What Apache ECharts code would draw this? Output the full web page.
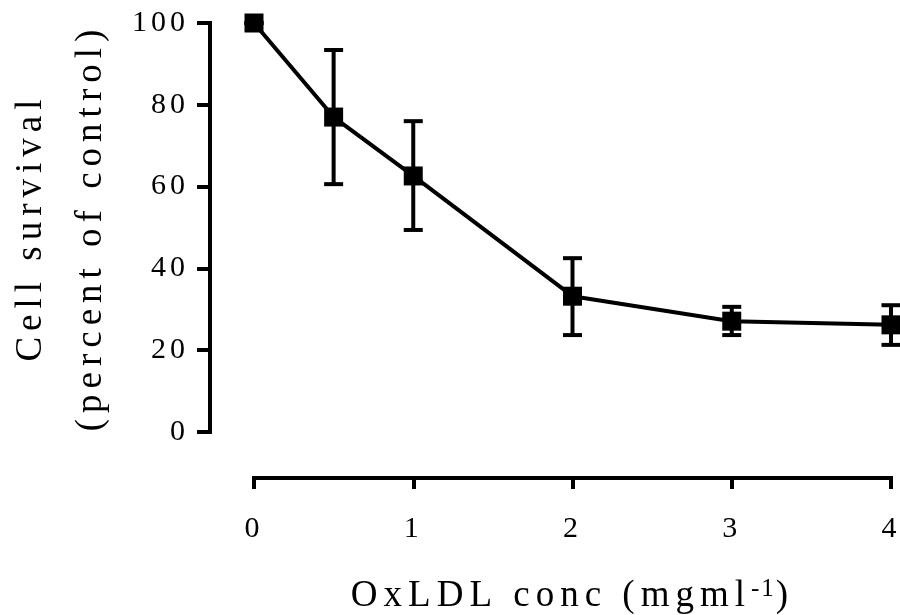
<!DOCTYPE html>
<html>
<head>
<meta charset="utf-8">
<script src="https://cdn.jsdelivr.net/npm/echarts@6/dist/echarts.min.js"></script>
<style>html,body{margin:0;padding:0;background:#fff}#c{width:900px;height:615px}</style>
</head>
<body>
<div id="c"></div>
<script>
// Letter spacing to mimic the wide-tracked serif text of the reference
(function(){
  var P = CanvasRenderingContext2D.prototype;
  if (!('letterSpacing' in P)) return;
  function sp(ctx){
    var m = /(\d+(?:\.\d+)?)px/.exec(ctx.font);
    var s = m ? parseFloat(m[1]) : 12;
    ctx.letterSpacing = s >= 34 ? '6px' : (s >= 27 ? '4px' : '2px');
  }
  var ft = P.fillText, mt = P.measureText;
  P.fillText = function(){ sp(this); return ft.apply(this, arguments); };
  P.measureText = function(){ sp(this); return mt.apply(this, arguments); };
})();

var conc      = [0, 0.5, 1, 2, 3, 4];
var survival  = [100, 77, 62.6, 33.2, 27.1, 26.2];
var errLow    = [100, 60.6, 49.4, 23.7, 23.7, 21.3];
var errHigh   = [100, 93.4, 76, 42.5, 30.6, 31];
var xTicks    = [0, 1, 2, 3, 4];
var yTicks    = [0, 20, 40, 60, 80, 100];

var FONT = "'Liberation Serif', 'Times New Roman', serif";

var chart = echarts.init(document.getElementById('c'), null, {renderer: 'canvas'});

var lineData = conc.map(function(x, i){ return [x, survival[i]]; });
var errData = conc.map(function(x, i){ return [x, errLow[i], errHigh[i]]; });

chart.setOption({
  animation: false,
  backgroundColor: '#ffffff',
  grid: {left: 254, right: 9, top: 23, bottom: 183, containLabel: false, outerBoundsMode: 'none'},
  xAxis: {
    type: 'value', min: xTicks[0], max: xTicks[xTicks.length - 1], interval: 1,
    offset: 46,
    axisLine: {show: true, onZero: false, lineStyle: {color: '#000', width: 4, cap: 'square'}},
    axisTick: {show: true, length: 11, lineStyle: {color: '#000', width: 4}},
    splitLine: {show: false},
    axisLabel: {color: '#000', fontFamily: FONT, fontSize: 30, margin: 34},
    name: '{a|OxLDL conc (mgml}{s|-1}{a|)}',
    nameLocation: 'middle',
    nameGap: 98,
    nameTextStyle: {
      rich: {
        a: {fontFamily: FONT, fontSize: 37, color: '#000', lineHeight: 40},
        s: {fontFamily: FONT, fontSize: 25, color: '#000', verticalAlign: 'top', lineHeight: 18}
      }
    }
  },
  yAxis: {
    type: 'value', min: yTicks[0], max: yTicks[yTicks.length - 1], interval: 20,
    offset: 44,
    axisLine: {show: true, onZero: false, lineStyle: {color: '#000', width: 4, cap: 'square'}},
    axisTick: {show: true, length: 13, lineStyle: {color: '#000', width: 4}},
    splitLine: {show: false},
    axisLabel: {color: '#000', fontFamily: FONT, fontSize: 30, margin: 21},
    name: 'Cell survival\n(percent of control)',
    nameLocation: 'middle',
    nameGap: 85,
    nameTextStyle: {fontFamily: FONT, fontSize: 37, color: '#000', lineHeight: 60}
  },
  series: [
    {
      type: 'custom',
      clip: false,
      z: 3,
      data: errData,
      renderItem: function(params, api){
        var x = api.value(0);
        var lo = api.coord([x, api.value(1)]);
        var hi = api.coord([x, api.value(2)]);
        var hw = 9.5;
        var st = {stroke: '#000', lineWidth: 4};
        return {
          type: 'group',
          children: [
            {type: 'line', shape: {x1: lo[0], y1: lo[1], x2: hi[0], y2: hi[1]}, style: st},
            {type: 'line', shape: {x1: hi[0] - hw, y1: hi[1], x2: hi[0] + hw, y2: hi[1]}, style: st},
            {type: 'line', shape: {x1: lo[0] - hw, y1: lo[1], x2: lo[0] + hw, y2: lo[1]}, style: st}
          ]
        };
      }
    },
    {
      type: 'line',
      clip: false,
      z: 4,
      data: lineData,
      symbol: 'rect',
      symbolSize: 19,
      showAllSymbol: true,
      lineStyle: {color: '#000', width: 4},
      itemStyle: {color: '#000', borderWidth: 0}
    }
  ]
});
</script>
</body>
</html>
